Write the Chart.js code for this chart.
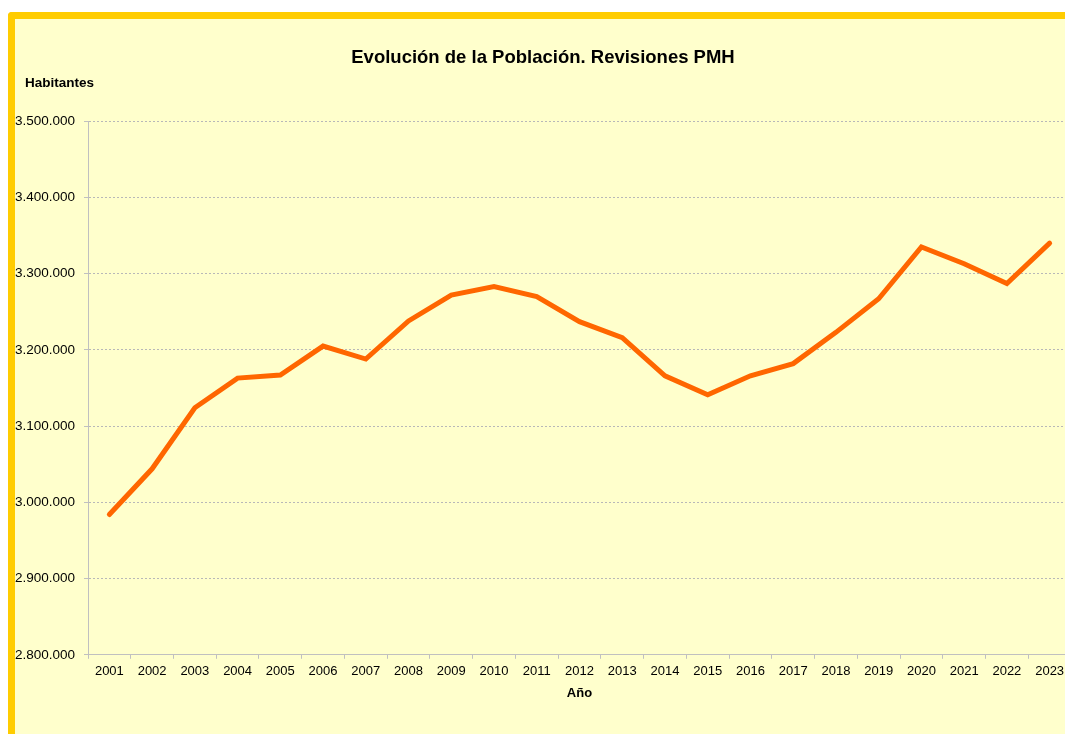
<!DOCTYPE html>
<html>
<head>
<meta charset="utf-8">
<script src="https://cdn.jsdelivr.net/npm/chart.js@4"></script>
<style>
  html, body { margin: 0; padding: 0; background: #ffffff; overflow: hidden; }
  #frame {
    position: absolute; left: 8px; top: 12px;
    width: 1100px; height: 760px;
    background: #ffffcc;
    border-top: 7px solid #ffcc00;
    border-left: 7px solid #ffcc00;
    border-top-left-radius: 4px;
  }
  #chart { display: block; }
</style>
</head>
<body>
<div id="frame"><canvas id="chart" width="1056" height="720"></canvas></div>
<script>
// Población (PMH) por año
const years = ["2001","2002","2003","2004","2005","2006","2007","2008","2009","2010","2011","2012",
               "2013","2014","2015","2016","2017","2018","2019","2020","2021","2022","2023"];
const habitantes = [2984000, 3044000, 3124000, 3163000, 3167000, 3205000, 3188000, 3238000, 3272000,
                    3283000, 3270000, 3237000, 3216000, 3166000, 3141000, 3166000, 3182000, 3223000,
                    3267000, 3335000, 3313000, 3287000, 3340000];
const yMin = 2800000, yMax = 3500000, yStep = 100000;

const chartTitle = "Evolución de la Población. Revisiones PMH";
const yTitle = "Habitantes";
const xTitle = "Año";

// 3500000 -> "3.500.000"
function fmtMiles(v){
    return String(Math.round(v)).replace(/\B(?=(\d{3})+(?!\d))/g, ".");
}

const fontFam = "'Liberation Sans', Arial, sans-serif";

// "Habitantes" arriba a la izquierda
const yLabelPlugin = {
    id: "yLabel",
    afterDraw(chart){
        const ctx = chart.ctx;
        ctx.save();
        ctx.font = "bold 13.5px " + fontFam;
        ctx.fillStyle = "#000";
        ctx.textBaseline = "middle";
        ctx.textAlign = "left";
        ctx.fillText(yTitle, 10, 64);
        ctx.restore();
    }
};

const ctx = document.getElementById("chart").getContext("2d");
new Chart(ctx, {
    type: "line",
    data: {
        labels: years,
        datasets: [{
            label: yTitle,
            data: habitantes,
            borderColor: "#ff6600",
            borderWidth: 5,
            pointRadius: 0,
            pointHoverRadius: 0,
            borderCapStyle: "round",
            fill: false,
            tension: 0
        }]
    },
    options: {
        responsive: false,
        animation: false,
        devicePixelRatio: 1,
        layout: { padding: { top: 0, left: 0, right: 0, bottom: 38 } },
        plugins: {
            legend: { display: false },
            tooltip: { enabled: false },
            title: {
                display: true,
                text: chartTitle,
                color: "#000",
                font: { family: fontFam, size: 18.5, weight: "bold" },
                padding: { top: 28, bottom: 52 }
            }
        },
        scales: {
            x: {
                offset: true,
                grid: {
                    offset: true,
                    drawOnChartArea: false,
                    drawTicks: true,
                    tickLength: 4,
                    color: "#c0c0c0"
                },
                border: { color: "#c0c0c0", width: 1 },
                ticks: {
                    color: "#000",
                    font: { family: fontFam, size: 13 },
                    padding: 5,
                    maxRotation: 0,
                    autoSkip: false
                },
                title: {
                    display: true,
                    text: xTitle,
                    color: "#000",
                    font: { family: fontFam, size: 13, weight: "bold" },
                    padding: { top: 1, bottom: 0 }
                }
            },
            y: {
                min: yMin,
                max: yMax,
                afterFit(scale){ scale.width = 73; },
                grid: {
                    color: "#b8b8b8",
                    lineWidth: 1,
                    tickLength: 4,
                    tickColor: "#c0c0c0",
                    tickBorderDash: []
                },
                border: { display: true, color: "#c0c0c0", width: 1, dash: [2, 2] },
                ticks: {
                    stepSize: yStep,
                    color: "#000",
                    font: { family: fontFam, size: 13.5 },
                    padding: 9,
                    callback: v => fmtMiles(v)
                }
            }
        }
    },
    plugins: [yLabelPlugin]
});
</script>
</body>
</html>
